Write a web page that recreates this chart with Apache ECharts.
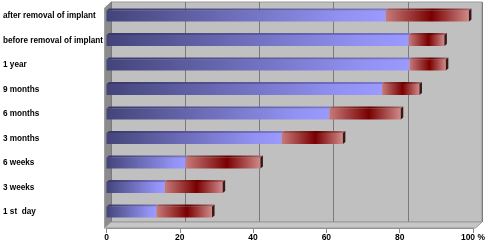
<!DOCTYPE html>
<html><head><meta charset="utf-8">
<script src="https://cdn.jsdelivr.net/npm/echarts@6/dist/echarts.min.js"></script>
<style>html,body{margin:0;padding:0;background:#fff}#c{width:488px;height:242px}</style>
</head><body><div id="c"></div>
<script>
const categories = ["1 st  day","3 weeks","6 weeks","3 months","6 months","9 months","1 year","before removal of implant","after removal of implant"];
const blueValues = [13.6, 15.9, 21.6, 47.8, 60.8, 75.2, 82.7, 82.5, 76.2];
const redValues  = [15.2, 15.8, 20.4, 16.7, 19.5, 10.2,  9.9,  9.7, 22.7];
const xTicks = [0, 20, 40, 60, 80, 100];

const W = 488, H = 242;
const front = {left: 104.5, right: 475.5, bottom: 228};
const depth = {dx: 6.5, dy: 6};
const back = {left: front.left + depth.dx, right: front.right + depth.dx, top: 2, bottom: front.bottom - depth.dy};

const blueData = categories.map((c, i) => [i, 0, blueValues[i], 0]);
const redData = categories.map((c, i) => [i, blueValues[i], blueValues[i] + redValues[i], 1]);

const grads = {
  0: () => new echarts.graphic.LinearGradient(0, 0, 1, 0, [
    {offset: 0, color: '#44447a'}, {offset: 0.85, color: '#9292f4'}, {offset: 1, color: '#9a9aff'}]),
  1: () => new echarts.graphic.LinearGradient(0, 0, 1, 0, [
    {offset: 0, color: '#c67a7a'}, {offset: 0.55, color: '#7a0000'}, {offset: 1, color: '#d08a8a'}]),
  top0: () => new echarts.graphic.LinearGradient(0, 0, 1, 0, [
    {offset: 0, color: '#38386a'}, {offset: 1, color: '#7a7ad0'}]),
  top1: () => new echarts.graphic.LinearGradient(0, 0, 1, 0, [
    {offset: 0, color: '#a86060'}, {offset: 0.55, color: '#600000'}, {offset: 1, color: '#b07070'}])
};

function renderBar(params, api) {
  const cat = api.value(0), v0 = api.value(1), v1 = api.value(2), kind = api.value(3);
  const p0 = api.coord([v0, cat]);
  const p1 = api.coord([v1, cat]);
  const bw = api.size([0, 1])[1] * 0.45;
  const x0 = p0[0], x1 = p1[0], yT = p0[1] - bw / 2;
  const dx = 2.5, dy = 2;
  const children = [
    {type: 'rect', shape: {x: x0, y: yT, width: x1 - x0, height: bw}, style: {fill: grads[kind]()}},
    {type: 'polygon', shape: {points: [[x0, yT], [x0 + dx, yT - dy], [x1 + dx, yT - dy], [x1, yT]]}, style: {fill: grads['top' + kind]()}}
  ];
  if (kind === 1) {
    children.push({type: 'polygon', shape: {points: [[x1, yT], [x1 + dx, yT - dy], [x1 + dx, yT + bw - dy], [x1, yT + bw]]}, style: {fill: '#3a1616'}});
  }
  return {type: 'group', children};
}

const chart = echarts.init(document.getElementById('c'), null, {renderer: 'canvas'});
const font = '"Liberation Sans", Arial, sans-serif';
chart.setOption({
  animation: false,
  backgroundColor: '#ffffff',
  grid: [
    {left: front.left, right: W - front.right, top: 3.75, bottom: H - 224.25, containLabel: false},
    {left: back.left, right: W - back.right, top: back.top, bottom: H - back.bottom, show: true,
     backgroundColor: '#c0c0c0', borderColor: '#9a9a9a', borderWidth: 1, z: 0}
  ],
  xAxis: [
    {gridIndex: 0, type: 'value', min: 0, max: 100, interval: 20, offset: 3.75,
     axisLine: {show: true, lineStyle: {color: '#8a8a8a', width: 1}},
     axisTick: {show: true, length: 5, lineStyle: {color: '#8a8a8a'}},
     splitLine: {show: false},
     axisLabel: {margin: 5, color: '#000', fontSize: 8.5, fontWeight: 'bold', fontFamily: font,
       formatter: v => xTicks.includes(v) ? (v === 100 ? '100 %' : String(v)) : ''}},
    {gridIndex: 1, type: 'value', min: 0, max: 100, interval: 20,
     axisLine: {show: false}, axisTick: {show: false}, axisLabel: {show: false},
     splitLine: {show: true, lineStyle: {color: '#7a7a7a', width: 1}}}
  ],
  yAxis: [
    {gridIndex: 0, type: 'category', data: categories,
     axisLine: {show: false}, axisTick: {show: false}, splitLine: {show: false},
     axisLabel: {align: 'left', margin: front.left - 1, color: '#000', fontSize: 8.2, fontWeight: 'bold', fontFamily: font}},
    {gridIndex: 1, type: 'value', show: false, min: 0, max: 1, splitLine: {show: false}}
  ],
  graphic: [
    {type: 'polygon', z: 1, shape: {points: [[front.left, back.top + depth.dy], [back.left, back.top], [back.left, back.bottom], [front.left, front.bottom]]},
     style: {fill: '#8c8c8c', stroke: '#7a7a7a', lineWidth: 0.5}},
    {type: 'polygon', z: 1, shape: {points: [[front.left, front.bottom], [front.right, front.bottom], [back.right, back.bottom], [back.left, back.bottom]]},
     style: {fill: '#c6c6c6', stroke: '#9a9a9a', lineWidth: 1}}
  ],
  series: [
    {type: 'custom', name: 'blue', xAxisIndex: 0, yAxisIndex: 0, z: 5, renderItem: renderBar, data: blueData, encode: {x: [1, 2], y: 0}},
    {type: 'custom', name: 'red', xAxisIndex: 0, yAxisIndex: 0, z: 5, renderItem: renderBar, data: redData, encode: {x: [1, 2], y: 0}}
  ]
});
</script></body></html>
